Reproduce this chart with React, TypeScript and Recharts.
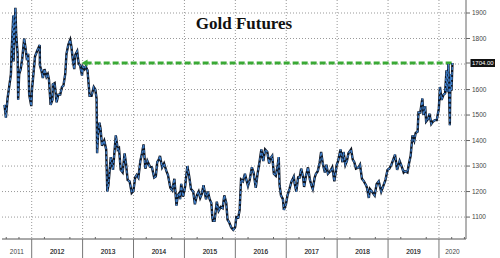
import React from 'react';
import { LineChart, Line, XAxis, YAxis, CartesianGrid, ReferenceLine, ReferenceDot } from 'recharts';

// gold futures (mm-dd per year, price in $/oz)
const days2011 = ['06-20', '06-30', '07-12', '07-26', '08-05', '08-10', '08-22', '08-24', '09-06', '09-12', '09-22', '09-26', '10-03', '10-14', '10-25', '11-08', '11-16', '11-28', '12-07', '12-14', '12-29'];
const gold2011 = [1540, 1490, 1565, 1620, 1660, 1750, 1890, 1710, 1920, 1815, 1740, 1560, 1660, 1680, 1720, 1800, 1770, 1715, 1740, 1580, 1535];

const days2012 = ['01-03', '01-10', '01-25', '02-08', '02-28', '02-29', '03-13', '03-21', '04-02', '04-16', '04-26', '05-04', '05-16', '05-29', '06-01', '06-14', '06-28', '07-10', '07-24', '08-06', '08-16', '08-29', '09-07', '09-20', '10-04', '10-12', '10-24', '11-02', '11-09', '11-23', '12-04', '12-14', '12-28'];
const gold2012 = [1600, 1640, 1730, 1750, 1775, 1695, 1670, 1645, 1680, 1650, 1660, 1640, 1540, 1560, 1620, 1625, 1550, 1580, 1580, 1610, 1615, 1660, 1740, 1775, 1795, 1770, 1710, 1680, 1735, 1750, 1700, 1695, 1655];

const days2013 = ['01-02', '01-15', '01-23', '02-05', '02-20', '03-06', '03-22', '04-02', '04-11', '04-15', '04-22', '05-02', '05-10', '05-20', '06-05', '06-19', '06-27', '07-05', '07-22', '08-07', '08-27', '09-10', '09-19', '10-01', '10-15', '10-29', '11-08', '11-20', '12-04', '12-19', '12-31'];
const gold2013 = [1690, 1680, 1690, 1675, 1575, 1575, 1610, 1600, 1565, 1350, 1425, 1470, 1445, 1380, 1400, 1365, 1200, 1225, 1335, 1285, 1420, 1365, 1370, 1285, 1275, 1350, 1310, 1245, 1240, 1195, 1202];

const days2014 = ['01-13', '01-24', '02-05', '02-19', '03-03', '03-14', '03-27', '04-10', '04-28', '05-13', '05-29', '06-10', '06-20', '07-01', '07-10', '07-25', '08-08', '08-25', '09-05', '09-22', '10-06', '10-21', '11-05', '11-14', '11-26', '12-01', '12-09', '12-22'];
const gold2014 = [1255, 1265, 1255, 1320, 1350, 1385, 1290, 1320, 1298, 1295, 1255, 1260, 1315, 1325, 1340, 1295, 1310, 1280, 1265, 1215, 1205, 1250, 1145, 1185, 1195, 1170, 1230, 1180];

const days2015 = ['01-06', '01-22', '02-04', '02-17', '03-05', '03-17', '03-31', '04-13', '04-24', '05-05', '05-18', '06-05', '06-18', '07-01', '07-13', '07-20', '07-24', '08-05', '08-21', '09-03', '09-18', '10-02', '10-14', '10-28', '11-06', '11-17', '12-02', '12-17', '12-31'];
const gold2015 = [1220, 1300, 1260, 1210, 1200, 1150, 1185, 1200, 1175, 1190, 1225, 1170, 1200, 1170, 1155, 1100, 1085, 1085, 1160, 1125, 1140, 1135, 1185, 1155, 1090, 1080, 1060, 1050, 1061];

const days2016 = ['01-08', '01-22', '02-01', '02-11', '02-25', '03-10', '03-21', '04-01', '04-13', '04-29', '05-11', '05-27', '06-09', '06-24', '07-06', '07-20', '08-02', '08-18', '08-31', '09-09', '09-22', '10-04', '10-18', '11-01', '11-08', '11-14', '11-24', '12-08', '12-15', '12-30'];
const gold2016 = [1100, 1098, 1128, 1247, 1240, 1270, 1245, 1222, 1245, 1295, 1275, 1215, 1270, 1320, 1365, 1320, 1365, 1355, 1310, 1330, 1340, 1270, 1262, 1305, 1335, 1225, 1185, 1170, 1128, 1150];

const days2017 = ['01-10', '01-24', '02-08', '02-24', '03-02', '03-14', '03-27', '04-07', '04-18', '05-02', '05-09', '05-22', '06-06', '06-20', '07-03', '07-10', '07-24', '08-02', '08-15', '08-29', '09-08', '09-20', '10-05', '10-16', '10-27', '11-13', '11-27', '12-12', '12-29'];
const gold2017 = [1185, 1210, 1240, 1258, 1232, 1200, 1255, 1255, 1290, 1255, 1218, 1260, 1295, 1245, 1220, 1210, 1255, 1270, 1280, 1315, 1355, 1310, 1275, 1305, 1270, 1280, 1295, 1240, 1305];

const days2018 = ['01-08', '01-25', '02-08', '02-16', '03-01', '03-12', '03-23', '04-11', '04-23', '05-04', '05-16', '06-04', '06-14', '06-28', '07-12', '07-27', '08-03', '08-16', '08-24', '09-07', '09-27', '10-11', '10-26', '11-13', '11-30', '12-13', '12-28'];
const gold2018 = [1320, 1365, 1315, 1355, 1305, 1320, 1350, 1365, 1325, 1315, 1290, 1295, 1305, 1250, 1240, 1225, 1215, 1175, 1210, 1200, 1185, 1230, 1240, 1200, 1225, 1245, 1285];

const days2019 = ['01-10', '01-25', '02-04', '02-20', '03-07', '03-25', '04-08', '04-23', '05-02', '05-20', '05-31', '06-12', '06-25', '07-08', '07-18', '08-01', '08-07', '08-20', '09-04', '09-12', '09-24', '10-01', '10-15', '10-25', '11-07', '11-20', '12-03', '12-16', '12-31'];
const gold2019 = [1290, 1305, 1320, 1345, 1285, 1320, 1300, 1275, 1280, 1275, 1310, 1340, 1420, 1400, 1430, 1435, 1510, 1510, 1565, 1500, 1535, 1475, 1485, 1505, 1465, 1475, 1480, 1480, 1525];

const days2020 = ['01-08', '01-20', '02-03', '02-14', '02-24', '02-28', '03-09', '03-19', '03-24', '03-31', '04-07'];
const gold2020 = [1610, 1560, 1580, 1585, 1675, 1590, 1700, 1460, 1660, 1595, 1704];

const years = [2011, 2012, 2013, 2014, 2015, 2016, 2017, 2018, 2019, 2020];
const dayLists = [days2011, days2012, days2013, days2014, days2015, days2016, days2017, days2018, days2019, days2020];
const priceLists = [gold2011, gold2012, gold2013, gold2014, gold2015, gold2016, gold2017, gold2018, gold2019, gold2020];

const gridTicks = [1100, 1200, 1300, 1400, 1500, 1600, 1700, 1800, 1900];
const lastPrice = 1704;
// the 1700 label is hidden behind the last-price box
const axisTicks = [...gridTicks.filter((v) => v !== 1700), lastPrice];
const arrowFrom = 2012.98; // where the green dashed marker starts
const xStart = 2011.4166;
const xEnd = 2020.531;

// date -> fractional year
const toYear = (year: number, md: string) => {
  const [m, d] = md.split('-').map(Number);
  const start = Date.UTC(year, 0, 1);
  const end = Date.UTC(year + 1, 0, 1);
  return year + (Date.UTC(year, m - 1, d) - start) / (end - start);
};

const data = years.flatMap((yr, i) =>
  dayLists[i].map((md, j) => ({ t: toYear(yr, md), price: priceLists[i][j] }))
);
const lastT = data[data.length - 1].t;

const boundaries = years.slice(1);
const quarters = years.flatMap((yr) => [yr + 0.25, yr + 0.5, yr + 0.75]).filter((q) => q > xStart && q < xEnd);
const yearLabels = years.map((yr) => ({
  value: (Math.max(yr, xStart) + Math.min(yr + 1, xEnd)) / 2,
  text: String(yr),
}));
const xTicks = [...boundaries, ...quarters, ...yearLabels.map((l) => l.value)];

const tickFont = '"Liberation Sans", Arial, sans-serif';
const tickColor = '#444';

const TimeTick = ({ x, y, payload }: any) => {
  const v = payload.value;
  if (boundaries.includes(v)) {
    return <line x1={x} x2={x} y1={y} y2={y + 19} stroke="#777" strokeWidth={1} />;
  }
  const label = yearLabels.find((l) => l.value === v);
  if (label) {
    return (
      <text x={x} y={y + 15} textAnchor="middle" fontSize={6.5} fill={tickColor} fontFamily={tickFont}>
        {label.text}
      </text>
    );
  }
  return <line x1={x} x2={x} y1={y - 2} y2={y} stroke="#666" strokeWidth={1} />;
};

const PriceTick = ({ x, y, payload }: any) => {
  if (payload.value === lastPrice) {
    return (
      <g>
        <rect x={x - 1.5} y={y - 4} width={24.5} height={8} fill="#111" />
        <text x={x} y={y + 2.1} fontSize={6} fill="#fff" fontFamily={tickFont}>
          {lastPrice.toFixed(2)}
        </text>
      </g>
    );
  }
  return (
    <text x={x} y={y + 2.4} fontSize={6.5} fill={tickColor} fontFamily={tickFont}>
      {payload.value}
    </text>
  );
};

const Arrowhead = ({ cx, cy }: any) => (
  <polygon points={`${cx},${cy} ${cx + 6},${cy - 3.5} ${cx + 6},${cy + 3.5}`} fill="#3aa935" />
);

export default function App() {
  return (
    <div style={{ position: 'absolute', left: 0, top: 0, width: 500, height: 258, background: '#fff' }}>
      <div
        style={{
          position: 'absolute',
          left: 0,
          top: 15,
          width: 488,
          textAlign: 'center',
          fontFamily: '"Liberation Serif", "Times New Roman", serif',
          fontWeight: 'bold',
          fontSize: 17,
          lineHeight: '17px',
          color: '#111',
          zIndex: 1,
        }}
      >
        Gold Futures
      </div>
      <LineChart width={500} height={258} data={data} margin={{ top: 0, right: 0, bottom: 0, left: 2 }}>
        <CartesianGrid
          stroke="#999"
          strokeDasharray="1 2"
          horizontalValues={gridTicks}
          verticalValues={boundaries}
        />
        <XAxis
          dataKey="t"
          type="number"
          domain={[xStart, xEnd]}
          allowDataOverflow
          ticks={xTicks}
          interval={0}
          height={19}
          tickSize={0}
          tickMargin={0}
          tickLine={false}
          tick={<TimeTick />}
          axisLine={{ stroke: '#555' }}
        />
        <YAxis
          orientation="right"
          type="number"
          domain={[1014, 1951]}
          allowDataOverflow
          ticks={axisTicks}
          interval={0}
          width={34}
          tickSize={4}
          tickMargin={2}
          tickLine={{ stroke: '#666' }}
          axisLine={{ stroke: '#666' }}
          tick={<PriceTick />}
        />
        <ReferenceLine
          segment={[{ x: arrowFrom + 0.08, y: lastPrice }, { x: lastT, y: lastPrice }]}
          stroke="#3aa935"
          strokeWidth={3}
          strokeDasharray="6 3"
        />
        <ReferenceDot x={arrowFrom} y={lastPrice} r={4} shape={<Arrowhead />} />
        <Line dataKey="price" stroke="#0e1522" strokeWidth={2.4} dot={false} isAnimationActive={false} />
        <Line dataKey="price" stroke="#3f7fca" strokeWidth={1.3} strokeDasharray="3 2" dot={false} isAnimationActive={false} />
      </LineChart>
    </div>
  );
}
